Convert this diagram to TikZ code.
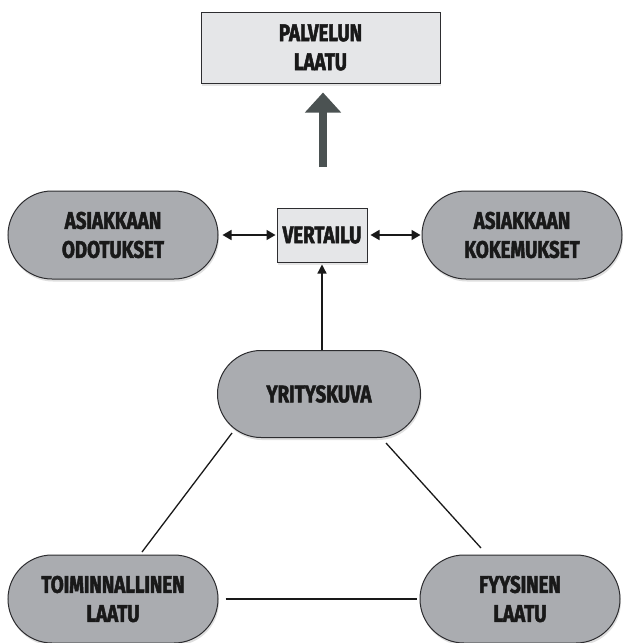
\documentclass[tikz,border=0pt]{standalone}
\usepackage{fontspec}
\setmainfont{Fira Sans}[FakeStretch=0.78, BoldFeatures={FakeBold=2}]
\usetikzlibrary{arrows.meta,shapes.misc,shadows}
\definecolor{pillgray}{RGB}{170,172,176}
\definecolor{boxgray}{RGB}{229,230,232}
\definecolor{edgegray}{RGB}{45,45,48}
\definecolor{bigarrowgray}{RGB}{75,82,82}
\tikzset{
  lbl/.style={align=center, font=\fontsize{24}{29}\selectfont\bfseries, text=black!90},
  pill/.style={lbl, rounded rectangle, draw=edgegray, line width=1pt, fill=pillgray,
    minimum height=88pt, inner sep=0pt,
    drop shadow={opacity=0.25, shadow xshift=1pt, shadow yshift=-2.5pt}},
  sqbox/.style={lbl, rectangle, draw=edgegray, line width=1pt, fill=boxgray, inner sep=0pt,
    drop shadow={opacity=0.2, shadow xshift=1pt, shadow yshift=-2.5pt}},
  link/.style={draw=black!90, line width=1.3pt},
  twoway/.style={link, line width=1.6pt, {Triangle[length=9pt,width=10pt]}-{Triangle[length=9pt,width=10pt]}},
  oneway/.style={link, -{Triangle[length=9pt,width=9pt]}},
  bigarrow/.style={draw=bigarrowgray, line width=8pt, -{Triangle[length=20pt,width=35pt]}}
}
\begin{document}
\begin{tikzpicture}[x=1pt,y=-1pt]
\useasboundingbox (0,0) rectangle (622,643);
\fill[white] (0,0) rectangle (622,643);
% nodes
\node[sqbox, minimum width=239pt, minimum height=71pt] (pal) at (320.5,47.5) {PALVELUN\\LAATU};
\node[pill, minimum width=210pt] (od) at (113,235) {ASIAKKAAN\\ODOTUKSET};
\node[sqbox, minimum width=90pt, minimum height=54pt] (ve) at (322,235) {VERTAILU};
\node[pill, minimum width=200pt] (ko) at (522,235) {ASIAKKAAN\\KOKEMUKSET};
\node[pill, minimum width=203pt, minimum height=87pt] (yr) at (319,394) {YRITYSKUVA};
\node[pill, minimum width=210pt] (to) at (113,599) {TOIMINNALLINEN\\LAATU};
\node[pill, minimum width=200pt] (fy) at (520,599) {FYYSINEN\\LAATU};
% connectors
\coordinate (thickstart) at (323,167);
\draw[bigarrow, shorten >=9pt] (thickstart) -- (thickstart |- pal.south);
\draw[twoway, shorten <=4pt, shorten >=1pt] (od.east) -- (ve.west);
\draw[twoway, shorten <=3pt, shorten >=1pt] (ve.east) -- (ko.west);
\draw[oneway, shorten >=2pt] (yr.north -| ve.south) -- (ve.south);
\draw[link] ([shift={(-87,39)}]yr.center) -- ([shift={(29,-47)}]to.center);
\draw[link] ([shift={(67,49)}]yr.center) -- ([shift={(-39,-51)}]fy.center);
\draw[link, shorten <=7pt, shorten >=3pt] (to.east) -- (fy.west);
\end{tikzpicture}
\end{document}
